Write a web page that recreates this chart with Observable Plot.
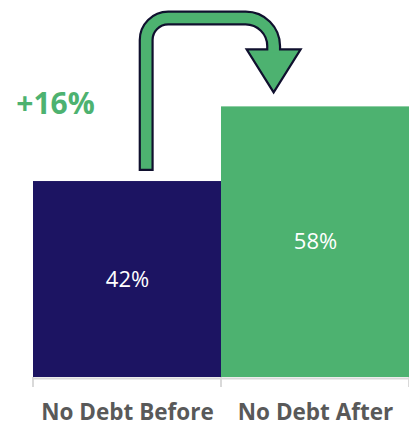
<!DOCTYPE html>
<html>
<head>
<meta charset="utf-8">
<script src="https://cdn.jsdelivr.net/npm/d3@7"></script>
<script src="https://cdn.jsdelivr.net/npm/@observablehq/plot@0.6"></script>
<style>
  html, body { margin: 0; padding: 0; background: #ffffff; }
  #chart svg { display: block; }
</style>
</head>
<body>
<div id="chart"></div>
<script>
// ---- data ----
const categories = ["No Debt Before", "No Debt After"];
const values = [42, 58];
const valueLabels = ["42%", "58%"];
const changeLabel = "+16%";

const colors = ["#1c1462", "#4db270"];
const outline = "#10102e";
const labelGray = "#595959";

const data = categories.map((c, i) => ({category: c, value: values[i], label: valueLabels[i]}));

// arrow from the first bar to the second bar
function arrowMark(index, scales, chValues, dims) {
  const x = scales.x, y = scales.y;
  let bw = typeof x.bandwidth === "function" ? x.bandwidth() : x.bandwidth;
  if (!bw) bw = (dims.width - dims.marginLeft - dims.marginRight) / categories.length;
  const b1 = x(categories[0]), b2 = x(categories[1]);
  const sx = b1 + bw * 0.602;
  const bottom = y(values[0]) - 10;
  const top = dims.marginTop + 18;
  const ex = b2 + bw * 0.28;
  const tip = y(values[1]) - 14;
  const headTop = tip - 43;
  const hw = 27;
  const rL = 22, rR = 28;
  const path = (b, e) => `M${sx},${b} L${sx},${top + rL} A${rL},${rL} 0 0 1 ${sx + rL},${top} L${ex - rR},${top} A${rR},${rR} 0 0 1 ${ex},${top + rR} L${ex},${e}`;
  const g = d3.create("svg:g");
  g.append("path").attr("d", path(bottom, headTop + 1)).attr("fill", "none")
    .attr("stroke", outline).attr("stroke-width", 15);
  g.append("path").attr("d", `M${ex - hw},${headTop} L${ex + hw},${headTop} L${ex},${tip} Z`)
    .attr("fill", colors[1]).attr("stroke", outline).attr("stroke-width", 2.2).attr("stroke-linejoin", "miter");
  g.append("path").attr("d", path(bottom - 2.2, headTop + 3)).attr("fill", "none")
    .attr("stroke", colors[1]).attr("stroke-width", 10.6);
  // category boundary ticks
  const y0 = y(0);
  [b1, b2, b2 + bw].forEach(t => {
    g.append("line").attr("x1", t).attr("x2", t).attr("y1", y0).attr("y2", y0 + 10)
      .attr("stroke", "#d9d9d9").attr("stroke-width", 2);
  });
  return g.node();
}

const chart = Plot.plot({
  width: 409,
  height: 426,
  marginLeft: 32,
  marginRight: 0,
  marginTop: 0,
  marginBottom: 49,
  style: {fontFamily: "'Open Sans', sans-serif", background: "#ffffff"},
  x: {domain: categories, padding: 0, label: null},
  y: {domain: [0, 80.8], axis: null},
  marks: [
    Plot.barY(data, {x: "category", y: "value", fill: (d, i) => colors[i]}),
    Plot.ruleY([0], {stroke: "#d9d9d9", strokeWidth: 2, dy: 1}),
    Plot.axisX({tickSize: 0, tickPadding: 27, fontSize: 22.5, fontWeight: "bold", fill: labelGray}),
    Plot.text(data, {x: "category", y: d => d.value / 2, text: "label", fill: "#ffffff", fontSize: 22}),
    Plot.text([changeLabel], {x: () => categories[0], y: () => values[1], text: d => d, dx: -72, dy: -2,
      fill: colors[1], fontSize: 30, fontWeight: "bold"}),
    arrowMark
  ]
});
document.getElementById("chart").appendChild(chart);
</script>
</body>
</html>
